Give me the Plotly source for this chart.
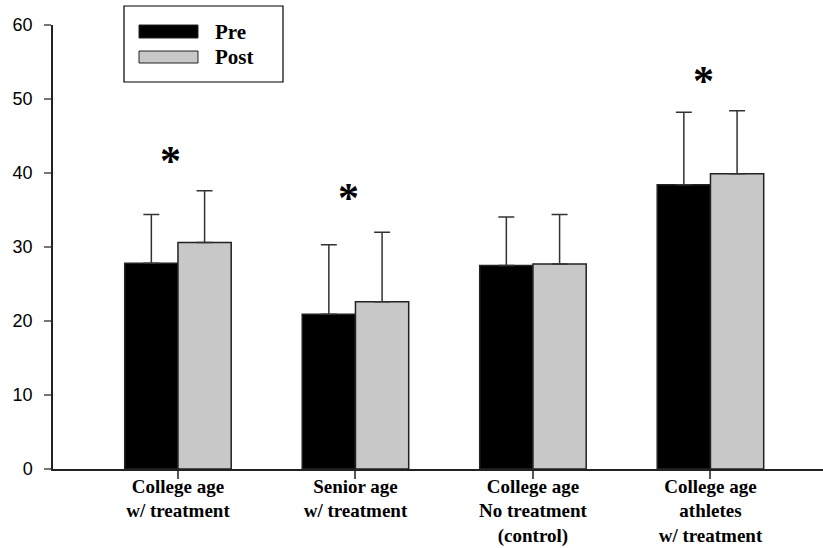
import plotly.graph_objects as go

categories = ["College age<br>w/ treatment", "Senior age<br>w/ treatment",
              "College age<br>No treatment<br>(control)", "College age<br>athletes<br>w/ treatment"]
pre_values = [27.8, 20.9, 27.5, 38.4]
post_values = [30.6, 22.6, 27.7, 39.9]
pre_err = [6.6, 9.4, 6.55, 9.8]
post_err = [7.0, 9.4, 6.7, 8.5]
star_groups = [0, 1, 3]
star_heights = [42.2, 37.1, 53.0]
y_ticks = [0, 10, 20, 30, 40, 50, 60]

xpos = list(range(len(categories)))

fig = go.Figure()
common_err = dict(type="data", symmetric=False, thickness=1.5, width=8, color="#333333")
fig.add_trace(go.Bar(
    x=xpos, y=pre_values, name="Pre",
    marker=dict(color="black", line=dict(color="#222222", width=1.5)),
    error_y=dict(array=pre_err, arrayminus=[0] * 4, **common_err),
    showlegend=False,
))
fig.add_trace(go.Bar(
    x=xpos, y=post_values, name="Post",
    marker=dict(color="#C8C8C8", line=dict(color="#222222", width=1.5)),
    error_y=dict(array=post_err, arrayminus=[0] * 4, **common_err),
    showlegend=False,
))

for g, h in zip(star_groups, star_heights):
    fig.add_annotation(x=g - 0.04, y=h, text="<b>*</b>", showarrow=False,
                       xref="x", yref="y", yanchor="middle", yshift=-4,
                       font=dict(family="Liberation Serif", size=42, color="black"))

# manual legend
fig.add_shape(type="rect", xref="paper", yref="paper", x0=0.0922, x1=0.2987, y0=0.8716, y1=1.0428,
              line=dict(color="black", width=1.2), fillcolor="white")
fig.add_shape(type="rect", xref="paper", yref="paper", x0=0.1117, x1=0.1883, y0=0.9707, y1=1.0,
              line=dict(color="#222222", width=1), fillcolor="black")
fig.add_shape(type="rect", xref="paper", yref="paper", x0=0.1117, x1=0.1883, y0=0.9144, y1=0.9414,
              line=dict(color="#222222", width=1), fillcolor="#C8C8C8")
for label, yy in [("Pre", 0.985), ("Post", 0.928)]:
    fig.add_annotation(x=0.2078, y=yy, xref="paper", yref="paper", text="<b>" + label + "</b>",
                       showarrow=False, xanchor="left", yanchor="middle",
                       font=dict(family="Liberation Serif", size=21, color="black"))

fig.update_layout(
    width=823, height=548,
    margin=dict(l=53, r=0, t=25, b=79),
    paper_bgcolor="white", plot_bgcolor="white",
    barmode="group", bargap=0.4, bargroupgap=0,
    showlegend=False,
)
fig.update_xaxes(
    range=[-0.704, 3.634], tickmode="array", tickvals=xpos, ticktext=["<b>" + c + "</b>" for c in categories],
    showline=True, linecolor="#222222", linewidth=1.5, showgrid=False, zeroline=False, automargin=False,
    ticks="outside", ticklen=8, tickcolor="#555555", tickwidth=1.5, ticklabelstandoff=-9,
    tickfont=dict(family="Liberation Serif", size=19, color="black"),
)
fig.update_yaxes(
    range=[0, 60], tickmode="array", tickvals=y_ticks, automargin=False,
    showline=True, linecolor="#222222", linewidth=1.5, showgrid=False, zeroline=False,
    ticks="outside", ticklen=7, tickcolor="#777777", tickwidth=1.5, ticklabelstandoff=8,
    tickfont=dict(family="Liberation Sans", size=18, color="black"),
)

fig.write_html("out.html", post_script="document.body.style.margin='0';",
               config={"displayModeBar": False})
